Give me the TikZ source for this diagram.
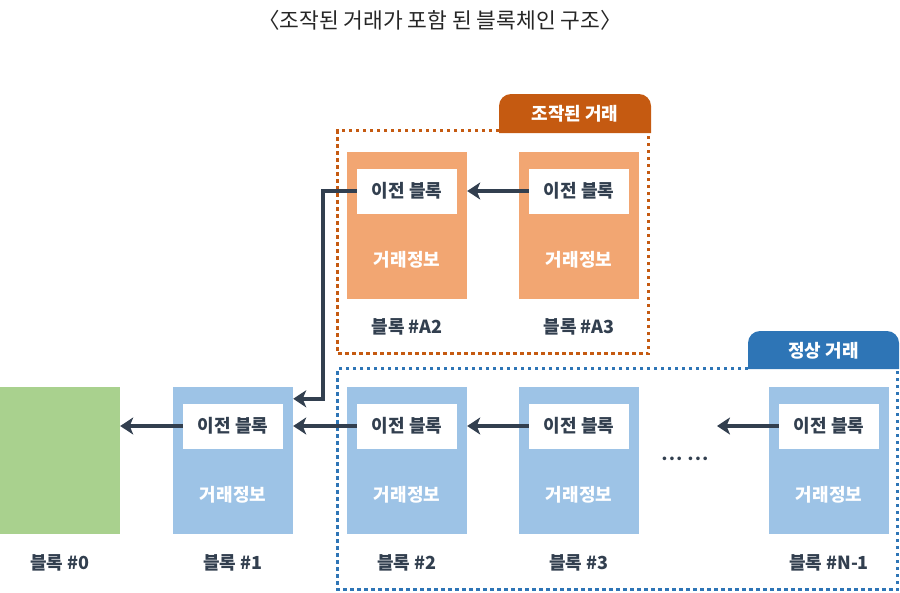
\documentclass[tikz,border=0pt]{standalone}
\usepackage{fontspec}
\setmainfont{Noto Sans CJK KR}
\newfontfamily\dotfont{DejaVu Sans}
\usetikzlibrary{arrows.meta}
\definecolor{navy}{HTML}{323F4F}
\definecolor{orfill}{HTML}{F2A672}
\definecolor{ordark}{HTML}{C55A11}
\definecolor{blfill}{HTML}{9DC3E6}
\definecolor{bldark}{HTML}{2E75B6}
\definecolor{grfill}{HTML}{A9D18E}
\tikzset{
  blk/.style={rectangle, minimum width=120pt, minimum height=147pt, inner sep=0pt, draw=none},
  inbox/.style={rectangle, fill=white, minimum width=100pt, minimum height=45pt, inner sep=0pt, font=\fontsize{18}{19}\selectfont\bfseries, text=navy},
  info/.style={font=\fontsize{18}{19}\selectfont\bfseries, text=white},
  lbl/.style={font=\fontsize{18}{19}\selectfont\bfseries, text=navy},
  conn/.style={draw=navy, line width=3.5pt, -{Stealth[length=13pt,width=17pt,inset=3.5pt]}},
  dotbox/.style={line width=3.5pt, dash pattern=on 3.5pt off 3.5pt},
  tabtxt/.style={font=\fontsize{18}{19}\selectfont\bfseries, text=white},
}
\begin{document}
\begin{tikzpicture}[x=1pt,y=-1pt]
\useasboundingbox (0,0) rectangle (900,592);
% title
\node[font=\fontsize{21.5}{22}\selectfont, text=black!85] (title) at (440,20) {〈조작된 거래가 포함 된 블록체인 구조〉};
% dotted boxes
\draw[dotbox, draw=ordark] (499,130.5) -- (337.5,130.5) -- (337.5,353.5) -- (648.5,353.5) -- (648.5,130.5);
\draw[dotbox, draw=bldark] (748,368.5) -- (337.5,368.5) -- (337.5,589.5) -- (897.5,589.5) -- (897.5,368.5);
% tabs
\fill[ordark] (499,133) [rounded corners=12pt] -- (499,94) -- (651,94) [sharp corners] -- (651,133) -- cycle;
\node[tabtxt] (tabA) at (575,114) {조작된 거래};
\fill[bldark] (748,369) [rounded corners=12pt] -- (748,331) -- (899,331) [sharp corners] -- (899,369) -- cycle;
\node[tabtxt] (tabB) at (823.5,351) {정상 거래};
% orange blocks
\node[blk, fill=orfill] (a2) at (407,225.5) {};
\node[inbox] (a2in) at (407,191) {이전 블록};
\node[info] (a2info) at (407,260) {거래정보};
\node[lbl] (a2lbl) at (407,327) {블록 \#A2};
\node[blk, fill=orfill] (a3) at (579,225.5) {};
\node[inbox] (a3in) at (579,191) {이전 블록};
\node[info] (a3info) at (579,260) {거래정보};
\node[lbl] (a3lbl) at (579,327) {블록 \#A3};
% green block
\node[blk, fill=grfill, minimum width=121pt] (b0) at (59.5,460.5) {};
\node[lbl] (b0lbl) at (60,563) {블록 \#0};
% blue blocks
\node[blk, fill=blfill] (b1) at (233,460.5) {};
\node[inbox] (b1in) at (233,426) {이전 블록};
\node[info] (b1info) at (233,495) {거래정보};
\node[lbl] (b1lbl) at (233,563) {블록 \#1};
\node[blk, fill=blfill] (b2) at (407,460.5) {};
\node[inbox] (b2in) at (407,426) {이전 블록};
\node[info] (b2info) at (407,495) {거래정보};
\node[lbl] (b2lbl) at (407,563) {블록 \#2};
\node[blk, fill=blfill] (b3) at (579,460.5) {};
\node[inbox] (b3in) at (579,426) {이전 블록};
\node[info] (b3info) at (579,495) {거래정보};
\node[lbl] (b3lbl) at (579,563) {블록 \#3};
\node[blk, fill=blfill] (bn) at (829,460.5) {};
\node[inbox] (bnin) at (829,426) {이전 블록};
\node[info] (bninfo) at (829,495) {거래정보};
\node[lbl] (bnlbl) at (829,563) {블록 \#N-1};
% dots
\node[font=\dotfont\fontsize{12.5}{13}\selectfont, text=navy] (dots) at (685,460) {••• •••};
\coordinate (free) at (717,426);
% connectors
\draw[conn] (b1in.west) -- (b0.east |- b1in.west);
\draw[conn] (b2in.west) -- (b1.east |- b2in.west);
\draw[conn] (b3in.west) -- (b2.east |- b3in.west);
\draw[conn] (bnin.west) -- (free);
\draw[conn] (a3in.west) -- (a2.east |- a3in.west);
\draw[conn] (a2in.west) -- ++(-34,0) |- ([yshift=-12pt]b1.north east);
\end{tikzpicture}
\end{document}
